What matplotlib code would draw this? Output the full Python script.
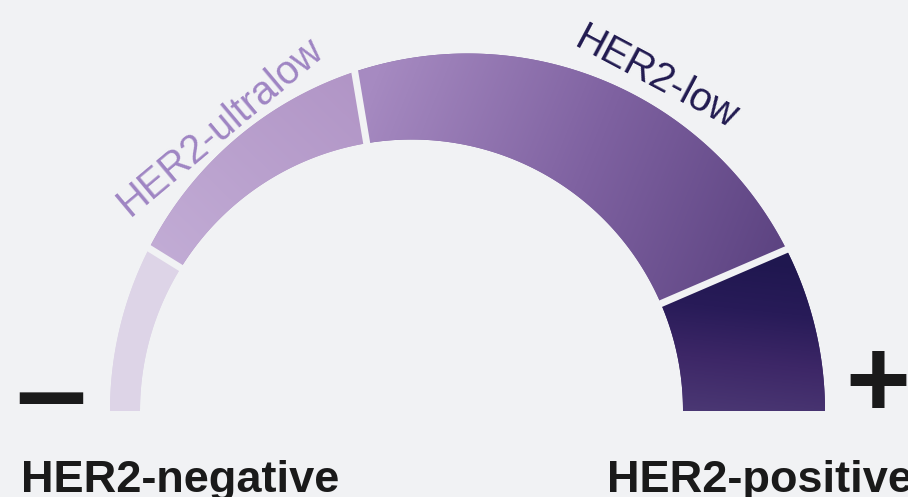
import numpy as np
import matplotlib.pyplot as plt
from matplotlib.colors import LinearSegmentedColormap
from matplotlib.patches import Polygon

# gauge segments, left to right
categories = ["HER2-negative", "HER2-ultralow", "HER2-low", "HER2-positive"]
# segment edges in degrees (0 = right end, 180 = left end)
edges_deg = [180, 148.2, 99.5, 23.3, 0]
arc_labels = ["HER2-ultralow", "HER2-low"]
end_labels = ["HER2-negative", "HER2-positive"]
end_signs = ["\u2212", "+"]

W, H = 908, 497
BG = "#F1F2F4"

# geometry (pixels, y down)
inner_c = np.array([411.5, 411.0])
inner_r = 271.5
outer_c = np.array([467.5, 411.0])
outer_r = 357.5
gap_px = 7

# gradient per segment: start point, end point, colour stops
grads = [
    ((150, 300), (360, 80), ["#DDD4E7", "#DDD4E7"]),
    ((150, 300), (360, 80), ["#C4AFD7", "#B195C6"]),
    ((370, 90), (790, 260), ["#A68AC1", "#7F62A1", "#5B4280"]),
    ((722, 255), (706, 411), ["#1F174F", "#281B58", "#3D2767", "#4A3773"]),
]


def ray_hit(theta):
    d = np.array([np.cos(theta), -np.sin(theta)])
    w = inner_c - outer_c
    b = w @ d
    t = -b + np.sqrt(b * b - w @ w + outer_r ** 2)
    return inner_c + t * d


def outer_angle(p):
    return np.arccos(np.clip((p[0] - outer_c[0]) / outer_r, -1, 1))


def segment(a0, a1, n=150):
    th = np.radians(np.linspace(a0, a1, n))
    inner = inner_c + inner_r * np.column_stack([np.cos(th), -np.sin(th)])
    ph0 = outer_angle(ray_hit(np.radians(a0)))
    ph1 = outer_angle(ray_hit(np.radians(a1)))
    ph = np.linspace(ph1, ph0, n)
    outer = outer_c + outer_r * np.column_stack([np.cos(ph), -np.sin(ph)])
    return np.vstack([inner, outer])


fig = plt.figure(figsize=(W / 100, H / 100), dpi=100)
fig.patch.set_facecolor(BG)
ax = fig.add_axes([0, 0, 1, 1])
ax.set_xlim(0, W)
ax.set_ylim(H, 0)
ax.axis("off")

X, Y = np.meshgrid(np.arange(W) + 0.5, np.arange(H) + 0.5)

for i, name in enumerate(categories):
    pts = segment(edges_deg[i], edges_deg[i + 1])
    (x0, y0), (x1, y1), stops = grads[i]
    dx, dy = x1 - x0, y1 - y0
    t = np.clip(((X - x0) * dx + (Y - y0) * dy) / (dx * dx + dy * dy), 0, 1)
    cmap = LinearSegmentedColormap.from_list(name, stops)
    patch = Polygon(pts, closed=True, facecolor=stops[len(stops) // 2],
                    edgecolor="none", zorder=1)
    ax.add_patch(patch)
    im = ax.imshow(cmap(t), extent=(0, W, H, 0), origin="upper",
                   interpolation="bilinear", zorder=2)
    im.set_clip_path(patch)

# gaps between segments
for a in edges_deg[1:-1]:
    th = np.radians(a)
    p_in = inner_c + (inner_r - 4) * np.array([np.cos(th), -np.sin(th)])
    p_out = ray_hit(th) + 4 * np.array([np.cos(th), -np.sin(th)])
    ax.plot([p_in[0], p_out[0]], [p_in[1], p_out[1]], color=BG,
            lw=gap_px * 72 / 100, solid_capstyle="butt", zorder=3)

font = ["Liberation Sans", "DejaVu Sans"]

ax.text(130, 217, arc_labels[0], rotation=40, rotation_mode="anchor",
        ha="left", va="baseline", fontsize=28.5, color="#9F85C3", family=font)
ax.text(573, 46, arc_labels[1], rotation=-28, rotation_mode="anchor",
        ha="left", va="baseline", fontsize=28.5, color="#211A50", family=font)

ax.text(21, 492, end_labels[0], ha="left", va="baseline", fontsize=32.5,
        fontweight="bold", color="#1A1A1A", family=font)
ax.text(607, 492, end_labels[1], ha="left", va="baseline", fontsize=32.5,
        fontweight="bold", color="#1A1A1A", family=font)

ax.text(51, 402, end_signs[0], ha="center", va="center", fontsize=73,
        fontweight="bold", color="#1A1A1A", family=["DejaVu Sans"])
ax.text(878, 388, end_signs[1], ha="center", va="center", fontsize=80,
        fontweight="bold", color="#1A1A1A", family=font)

fig.savefig("out.png", dpi=100, facecolor=BG)
